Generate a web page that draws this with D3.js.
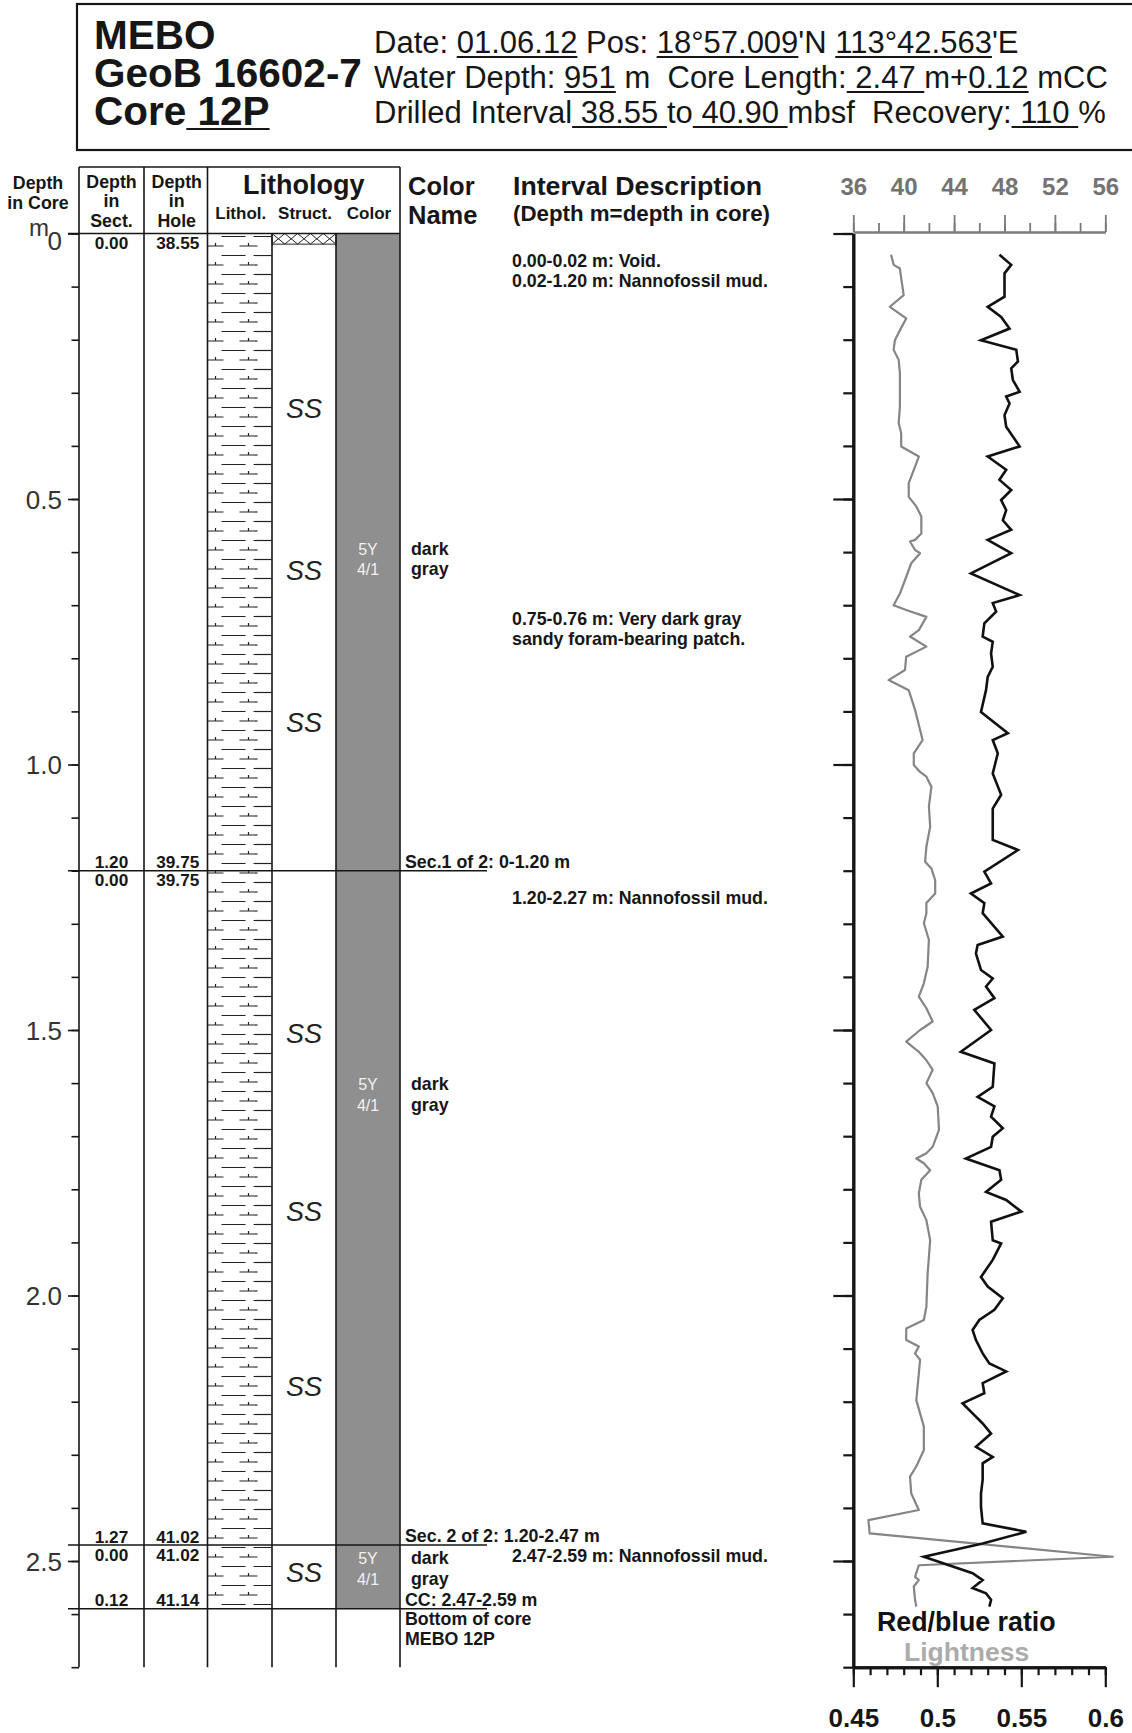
<!DOCTYPE html>
<html><head><meta charset="utf-8">
<script src="https://cdn.jsdelivr.net/npm/d3@7"></script>
<style>
html,body{margin:0;padding:0;background:#fff;}
svg{display:block;font-family:"Liberation Sans",Arial,Helvetica,sans-serif;}
</style></head><body>
<svg id="c" width="1132" height="1733"></svg>
<script>
// ---------------- DATA ----------------
const titleLines = ["MEBO", "GeoB 16602-7", "Core"];
const coreName = "12P";
const infoDate = "01.06.12", infoLat = "18°57.009", infoLon = "113°42.563";
const waterDepth = "951", coreLength = "2.47", ccLength = "0.12";
const drillTop = "38.55", drillBottom = "40.90", recovery = "110";

const depthLabels = ["0", "0.5", "1.0", "1.5", "2.0", "2.5"];
const depthMajor = [0, 0.5, 1.0, 1.5, 2.0, 2.5];
const lightTicks = [36, 40, 44, 48, 52, 56];
const ratioTicks = [0.45, 0.5, 0.55, 0.6];
const ratioLabels = ["0.45", "0.5", "0.55", "0.6"];

const sectionBreaks = [0.00, 1.20, 2.47, 2.59];
const sectionNames = [null, "Sec.1 of 2: 0-1.20 m", "Sec. 2 of 2: 1.20-2.47 m", "CC: 2.47-2.59 m"];
const sectAbove = [null, "1.20", "1.27", "0.12"];
const sectBelow = ["0.00", "0.00", "0.00", null];
const holeAbove = [null, "39.75", "41.02", "41.14"];
const holeBelow = ["38.55", "39.75", "41.02", null];

const voidInterval = [0.00, 0.02];
const coreBottom = 2.59;
const structDepths = [0.33, 0.634, 0.92, 1.507, 1.842, 2.172, 2.521];
const colorDepths = [0.605, 1.613, 2.506];
const colorCodes = [["5Y", "4/1"], ["5Y", "4/1"], ["5Y", "4/1"]];
const colorNames = [["dark", "gray"], ["dark", "gray"], ["dark", "gray"]];

const noteDepths = [0.064, 0.737, 1.263, 2.502];
const noteTexts = [
  ["0.00-0.02 m: Void.", "0.02-1.20 m: Nannofossil mud."],
  ["0.75-0.76 m: Very dark gray", "sandy foram-bearing patch."],
  ["1.20-2.27 m: Nannofossil mud."],
  ["2.47-2.59 m: Nannofossil mud."]
];
const bottomNote = ["Bottom of core", "MEBO 12P"];

// Lightness [depth m, value]
const lightness = [[0.040,39.0],[0.059,39.2],[0.066,39.7],[0.084,39.8],[0.116,40.0],[0.138,38.9],[0.160,40.2],[0.182,39.7],[0.201,39.3],[0.219,39.2],[0.238,39.6],[0.263,39.7],[0.295,39.7],[0.326,39.7],[0.357,39.6],[0.376,39.8],[0.401,39.8],[0.420,41.2],[0.439,40.9],[0.470,40.4],[0.496,40.4],[0.514,41.0],[0.533,41.4],[0.565,41.4],[0.577,40.9],[0.580,40.5],[0.596,40.9],[0.602,41.3],[0.621,40.6],[0.653,40.1],[0.678,39.7],[0.700,39.2],[0.709,40.2],[0.722,41.8],[0.747,41.2],[0.759,40.5],[0.778,41.8],[0.797,40.2],[0.822,40.1],[0.841,38.8],[0.860,40.4],[0.897,40.9],[0.954,41.5],[0.979,40.8],[1.001,40.8],[1.014,41.3],[1.023,41.8],[1.042,42.2],[1.079,42.0],[1.117,42.1],[1.155,41.8],[1.183,41.7],[1.196,42.2],[1.218,42.5],[1.243,42.5],[1.261,41.8],[1.280,41.8],[1.299,41.6],[1.330,42.0],[1.381,41.9],[1.412,41.6],[1.437,41.2],[1.459,41.8],[1.484,42.3],[1.500,41.3],[1.522,40.2],[1.541,41.2],[1.557,41.8],[1.575,42.3],[1.600,41.8],[1.619,42.3],[1.644,42.7],[1.688,42.8],[1.720,42.3],[1.732,41.8],[1.742,41.0],[1.751,41.6],[1.764,42.1],[1.782,41.4],[1.808,41.2],[1.833,41.3],[1.858,41.8],[1.896,42.1],[1.958,41.9],[2.021,41.8],[2.046,41.6],[2.062,40.2],[2.084,40.2],[2.096,41.2],[2.109,40.9],[2.121,41.3],[2.147,41.2],[2.197,41.0],[2.222,41.3],[2.247,41.6],[2.291,41.6],[2.322,41.0],[2.341,40.5],[2.373,40.6],[2.404,41.2],[2.423,37.2],[2.448,37.3],[2.492,56.6],[2.508,41.2],[2.530,40.9],[2.536,41.2],[2.548,40.8],[2.573,40.9],[2.586,41.0]];

// Red/blue ratio [depth m, value]
const ratio = [[0.040,0.537],[0.059,0.544],[0.075,0.540],[0.119,0.540],[0.138,0.530],[0.157,0.538],[0.179,0.543],[0.201,0.526],[0.219,0.547],[0.241,0.548],[0.254,0.544],[0.276,0.545],[0.298,0.549],[0.307,0.541],[0.320,0.543],[0.342,0.540],[0.364,0.541],[0.401,0.549],[0.420,0.530],[0.445,0.541],[0.464,0.537],[0.483,0.544],[0.502,0.538],[0.521,0.541],[0.540,0.539],[0.558,0.544],[0.577,0.530],[0.602,0.544],[0.640,0.520],[0.681,0.549],[0.696,0.533],[0.712,0.535],[0.734,0.528],[0.759,0.527],[0.769,0.533],[0.791,0.532],[0.816,0.533],[0.835,0.530],[0.860,0.529],[0.901,0.526],[0.941,0.542],[0.954,0.533],[0.979,0.536],[1.017,0.533],[1.057,0.538],[1.083,0.533],[1.142,0.533],[1.161,0.548],[1.202,0.528],[1.224,0.532],[1.243,0.520],[1.261,0.528],[1.280,0.527],[1.324,0.539],[1.340,0.524],[1.356,0.523],[1.387,0.526],[1.403,0.533],[1.418,0.529],[1.440,0.534],[1.462,0.522],[1.500,0.532],[1.541,0.514],[1.563,0.534],[1.607,0.533],[1.626,0.524],[1.644,0.534],[1.663,0.532],[1.685,0.539],[1.701,0.533],[1.720,0.532],[1.742,0.517],[1.764,0.537],[1.782,0.538],[1.805,0.529],[1.820,0.541],[1.842,0.550],[1.861,0.532],[1.896,0.533],[1.902,0.538],[1.933,0.533],[1.965,0.526],[1.983,0.530],[2.005,0.539],[2.027,0.534],[2.046,0.525],[2.065,0.521],[2.084,0.523],[2.109,0.527],[2.128,0.531],[2.143,0.541],[2.165,0.527],[2.184,0.528],[2.203,0.515],[2.222,0.521],[2.241,0.527],[2.260,0.532],[2.285,0.523],[2.304,0.533],[2.316,0.527],[2.347,0.527],[2.373,0.526],[2.398,0.526],[2.429,0.527],[2.445,0.553],[2.467,0.527],[2.492,0.492],[2.523,0.521],[2.536,0.527],[2.551,0.521],[2.561,0.529],[2.573,0.532],[2.586,0.531]];

// ---------------- DRAW ----------------
const W = 1132, H = 1733;
const svg = d3.select("#c");
svg.append("rect").attr("width", W).attr("height", H).attr("fill", "#fff");

const y = d3.scaleLinear().domain([0, 2.7]).range([233.5, 1667.2]);
const xL = d3.scaleLinear().domain([36, 56]).range([853.3, 1105.3]);
const xR = d3.scaleLinear().domain([0.45, 0.60]).range([853.3, 1105.3]);

const INK = "#161616";
const SMALL = 17.8;

// multi-line rich text in ONE text element; segments [string, underlined]
function richBlock(g, x, baselines, lineSegs, size, weight, fill) {
  const t = g.append("text").attr("font-size", size).attr("font-weight", weight).attr("fill", fill)
    .attr("xml:space", "preserve").style("white-space", "pre");
  lineSegs.forEach((segs, li) => {
    const ln = t.append("tspan").attr("x", x).attr("y", baselines[li]);
    segs.forEach(s => ln.append("tspan").text(s[0]));
  });
  const node = t.node();
  let idx = 0;
  lineSegs.forEach((segs, li) => {
    segs.forEach(s => {
      const n = s[0].length;
      if (s[1]) {
        const x0 = node.getStartPositionOfChar(idx).x;
        const x1 = node.getEndPositionOfChar(idx + n - 1).x;
        const yb = baselines[li];
        g.append("line").attr("x1", x0).attr("x2", x1).attr("y1", yb + 4).attr("y2", yb + 4)
          .attr("stroke", fill).attr("stroke-width", 1.8);
      }
      idx += n;
    });
  });
  return t;
}

// ---- Header box ----
const hdr = svg.append("g");
hdr.append("rect").attr("x", 77).attr("y", 4).attr("width", 1200).attr("height", 146)
  .attr("fill", "none").attr("stroke", INK).attr("stroke-width", 2.2);
richBlock(hdr, 94, [49, 87, 125], [
  [[titleLines[0], false]],
  [[titleLines[1], false]],
  [[titleLines[2], false], [" " + coreName, true]]
], 40.5, "bold", INK);
richBlock(hdr, 374, [53, 88, 123], [
  [["Date: ", false], [infoDate, true], [" Pos: ", false], [infoLat, true], ["'N ", false], [infoLon, true], ["'E", false]],
  [["Water Depth: ", false], [waterDepth, true], [" m  Core Length:", false], [" " + coreLength + " ", true], ["m+", false], [ccLength, true], [" mCC", false]],
  [["Drilled Interval", false], [" " + drillTop + " ", true], ["to", false], [" " + drillBottom + " ", true], ["mbsf  Recovery:", false], [" " + recovery + " ", true], ["%", false]]
], 31, "normal", INK);

// ---- Left table ----
const colX = [79, 144, 207.5, 272, 336, 400];
const tbl = svg.append("g");
const hTop = 167, y0 = y(0), yEnd = y(2.7);

// color fill
tbl.append("rect").attr("x", colX[4]).attr("y", y(0)).attr("width", colX[5] - colX[4])
  .attr("height", y(coreBottom) - y(0)).attr("fill", "#8f8f8f");

// lithology pattern (nannofossil mud)
const clip = svg.append("defs").append("clipPath").attr("id", "lithClip");
clip.append("rect").attr("x", colX[2]).attr("y", y(0)).attr("width", colX[3] - colX[2]).attr("height", y(coreBottom) - y(0));
const lith = tbl.append("g").attr("clip-path", "url(#lithClip)").attr("stroke", "#222").attr("stroke-width", 1.2);
const period = 19;
for (let yy = y(0) + 3; yy < y(coreBottom) + 2; yy += period) {
  [[14, 38], [46, 64]].forEach(s => lith.append("line").attr("x1", colX[2] + s[0]).attr("x2", colX[2] + s[1]).attr("y1", yy).attr("y2", yy));
  const yb = yy + period / 2;
  [[0, 16, 8], [32, 50, 41]].forEach(s => {
    lith.append("line").attr("x1", colX[2] + s[0]).attr("x2", colX[2] + s[1]).attr("y1", yb).attr("y2", yb);
    lith.append("line").attr("x1", colX[2] + s[2]).attr("x2", colX[2] + s[2]).attr("y1", yb).attr("y2", yb - 3);
  });
}

// void crosshatch
const vy0 = y(voidInterval[0]), vy1 = y(voidInterval[1]);
const hatch = tbl.append("g").attr("stroke", "#222").attr("stroke-width", 1);
hatch.append("rect").attr("x", colX[3]).attr("y", vy0).attr("width", colX[4] - colX[3]).attr("height", vy1 - vy0).attr("fill", "#fff");
const nX = 5, cw = (colX[4] - colX[3]) / nX;
for (let i = 0; i < nX; i++) {
  const xa = colX[3] + i * cw;
  hatch.append("line").attr("x1", xa).attr("y1", vy0).attr("x2", xa + cw).attr("y2", vy1);
  hatch.append("line").attr("x1", xa).attr("y1", vy1).attr("x2", xa + cw).attr("y2", vy0);
}

// table lines
const lines = tbl.append("g").attr("stroke", INK).attr("stroke-width", 1.6);
lines.append("line").attr("x1", colX[0]).attr("x2", colX[5]).attr("y1", hTop).attr("y2", hTop);
[0, 1, 2, 5].forEach(i => lines.append("line").attr("x1", colX[i]).attr("x2", colX[i]).attr("y1", hTop).attr("y2", yEnd));
[3, 4].forEach(i => lines.append("line").attr("x1", colX[i]).attr("x2", colX[i]).attr("y1", y0).attr("y2", yEnd));

// section boundary lines
sectionBreaks.forEach((b, i) => {
  const xe = i === 0 ? colX[5] : 487;
  lines.append("line").attr("x1", 68).attr("x2", xe).attr("y1", y(b)).attr("y2", y(b));
});

// left depth axis
const axL = svg.append("g").attr("transform", `translate(${colX[0]},0)`);
axL.call(d3.axisLeft(y).tickValues(d3.range(0, 28).map(i => i / 10)).tickSize(7.5).tickFormat("").tickSizeOuter(0));
axL.call(g => g.select(".domain").remove());
const axL2 = svg.append("g").attr("transform", `translate(${colX[0]},0)`);
axL2.call(d3.axisLeft(y).tickValues(depthMajor).tickSize(11).tickPadding(6).tickSizeOuter(0)
  .tickFormat((d, i) => depthLabels[i]));
axL2.call(g => g.select(".domain").remove());
[axL, axL2].forEach(a => a.selectAll("line").attr("stroke", INK).attr("stroke-width", 1.6));
axL2.selectAll("text").attr("font-size", 26).attr("fill", "#333").attr("font-family", "Liberation Sans, Arial, sans-serif")
  .attr("dy", (d, i) => i === 0 ? "0.62em" : "0.36em");
svg.append("text").attr("x", 39).attr("y", 236).attr("text-anchor", "middle").attr("font-size", 24).attr("fill", "#333").text("m");

// column headers
const hd = svg.append("g").attr("font-weight", "bold").attr("fill", INK).attr("text-anchor", "middle").attr("font-size", SMALL);
[["Depth", 189], ["in Core", 209]].forEach(t => hd.append("text").attr("x", 38).attr("y", t[1]).text(t[0]));
[["Depth", 188], ["in", 207], ["Sect.", 227]].forEach(t => hd.append("text").attr("x", (colX[0] + colX[1]) / 2).attr("y", t[1]).text(t[0]));
[["Depth", 188], ["in", 207], ["Hole", 227]].forEach(t => hd.append("text").attr("x", (colX[1] + colX[2]) / 2 + 1).attr("y", t[1]).text(t[0]));
hd.append("text").attr("x", (colX[2] + colX[5]) / 2).attr("y", 194).attr("font-size", 27).text("Lithology");
[["Lithol.", 2], ["Struct.", 3], ["Color", 4]].forEach(t => hd.append("text").attr("x", (colX[t[1]] + colX[t[1] + 1]) / 2 + 1).attr("y", 219).attr("font-size", 17).text(t[0]));
const hd2 = svg.append("g").attr("font-weight", "bold").attr("fill", INK);
hd2.append("text").attr("x", 408).attr("y", 195).attr("font-size", 25.5).text("Color");
hd2.append("text").attr("x", 408).attr("y", 224).attr("font-size", 25.5).text("Name");
hd2.append("text").attr("x", 513).attr("y", 195).attr("font-size", 26.7).text("Interval Description");
hd2.append("text").attr("x", 513).attr("y", 221).attr("font-size", 22.3).text("(Depth m=depth in core)");

// boundary depth labels
const bl = svg.append("g").attr("font-weight", "bold").attr("fill", INK).attr("font-size", 17.2).attr("text-anchor", "middle");
const cSect = (colX[0] + colX[1]) / 2, cHole = (colX[1] + colX[2]) / 2 + 2;
sectionBreaks.forEach((b, i) => {
  if (sectAbove[i]) bl.append("text").attr("x", cSect).attr("y", y(b) - 2.5).text(sectAbove[i]);
  if (holeAbove[i]) bl.append("text").attr("x", cHole).attr("y", y(b) - 2.5).text(holeAbove[i]);
  if (sectBelow[i]) bl.append("text").attr("x", cSect).attr("y", y(b) + 15.5).text(sectBelow[i]);
  if (holeBelow[i]) bl.append("text").attr("x", cHole).attr("y", y(b) + 15.5).text(holeBelow[i]);
});

// structures
svg.append("g").selectAll("text").data(structDepths).join("text")
  .attr("x", (colX[3] + colX[4]) / 2).attr("y", d => y(d) + 9.5).attr("text-anchor", "middle")
  .attr("font-size", 27).attr("font-style", "italic").attr("fill", "#222").text("SS");

// color codes and names
const cc = svg.append("g");
colorDepths.forEach((d, i) => {
  colorCodes[i].forEach((t, j) => cc.append("text").attr("x", (colX[4] + colX[5]) / 2).attr("y", y(d) + j * 20.5)
    .attr("text-anchor", "middle").attr("font-size", 16).attr("fill", "#f2f2f2").text(t));
  colorNames[i].forEach((t, j) => cc.append("text").attr("x", 411).attr("y", y(d) + j * 20.5)
    .attr("font-size", SMALL).attr("font-weight", "bold").attr("fill", INK).text(t));
});

// section names & notes
const nt = svg.append("g").attr("font-weight", "bold").attr("fill", INK).attr("font-size", SMALL);
sectionBreaks.forEach((b, i) => {
  if (sectionNames[i]) nt.append("text").attr("x", 405).attr("y", y(b) - 3).text(sectionNames[i]);
});
noteDepths.forEach((d, i) => {
  noteTexts[i].forEach((t, j) => nt.append("text").attr("x", 512).attr("y", y(d) + j * 20).text(t));
});
bottomNote.forEach((t, j) => nt.append("text").attr("x", 405).attr("y", y(coreBottom) + 16 + j * 20).text(t));

// ---- Right chart ----
const ch = svg.append("g");
const lineL = d3.line().x(d => xL(d[1])).y(d => y(d[0]));
const lineR = d3.line().x(d => xR(d[1])).y(d => y(d[0]));
ch.append("path").datum(lightness).attr("d", lineL).attr("fill", "none").attr("stroke", "#858585").attr("stroke-width", 2.2).attr("stroke-linejoin", "round");
ch.append("path").datum(ratio).attr("d", lineR).attr("fill", "none").attr("stroke", "#111").attr("stroke-width", 2.6).attr("stroke-linejoin", "miter");

// top lightness axis
const axT1 = ch.append("g").attr("transform", `translate(0,${y(0) - 1.5})`)
  .call(d3.axisTop(xL).tickValues(d3.range(36, 57, 2)).tickSize(9).tickFormat("").tickSizeOuter(0));
const axT2 = ch.append("g").attr("transform", `translate(0,${y(0) - 1.5})`)
  .call(d3.axisTop(xL).tickValues(lightTicks).tickSize(17).tickPadding(20).tickSizeOuter(0).tickFormat(d3.format("d")));
[axT1, axT2].forEach(a => { a.selectAll("line").attr("stroke", "#7a7a7a").attr("stroke-width", 1.8); a.select(".domain").attr("stroke", "#7a7a7a").attr("stroke-width", 2); });
axT2.selectAll("text").attr("font-size", 24).attr("font-weight", "bold").attr("fill", "#737373").attr("font-family", "Liberation Sans, Arial, sans-serif");

// depth axis
const axD1 = ch.append("g").attr("transform", `translate(${xL(36)},0)`)
  .call(d3.axisLeft(y).tickValues(d3.range(0, 28).map(i => i / 10)).tickSize(10).tickFormat("").tickSizeOuter(0));
const axD2 = ch.append("g").attr("transform", `translate(${xL(36)},0)`)
  .call(d3.axisLeft(y).tickValues(depthMajor).tickSize(20).tickFormat("").tickSizeOuter(0));
[axD1, axD2].forEach(a => { a.selectAll("line").attr("stroke", INK).attr("stroke-width", 2.2); a.select(".domain").attr("stroke", INK).attr("stroke-width", 3); });

// bottom ratio axis
const axB1 = ch.append("g").attr("transform", `translate(0,${y(2.7)})`)
  .call(d3.axisBottom(xR).tickValues(d3.range(0, 16).map(i => 0.45 + i / 100)).tickSize(8).tickFormat("").tickSizeOuter(0));
const axB2 = ch.append("g").attr("transform", `translate(0,${y(2.7)})`)
  .call(d3.axisBottom(xR).tickValues(ratioTicks).tickSize(20).tickPadding(21).tickSizeOuter(0).tickFormat((d, i) => ratioLabels[i]));
[axB1, axB2].forEach(a => { a.selectAll("line").attr("stroke", INK).attr("stroke-width", 2.2); a.select(".domain").attr("stroke", INK).attr("stroke-width", 3); });
axB2.selectAll("text").attr("font-size", 26).attr("font-weight", "bold").attr("fill", INK).attr("font-family", "Liberation Sans, Arial, sans-serif");

// legend
ch.append("text").attr("x", 877).attr("y", 1631).attr("font-size", 26.8).attr("font-weight", "bold").attr("fill", "#111").text("Red/blue ratio");
ch.append("text").attr("x", 904).attr("y", 1661).attr("font-size", 26.5).attr("font-weight", "bold").attr("fill", "#ababab").text("Lightness");
</script>
</body></html>
